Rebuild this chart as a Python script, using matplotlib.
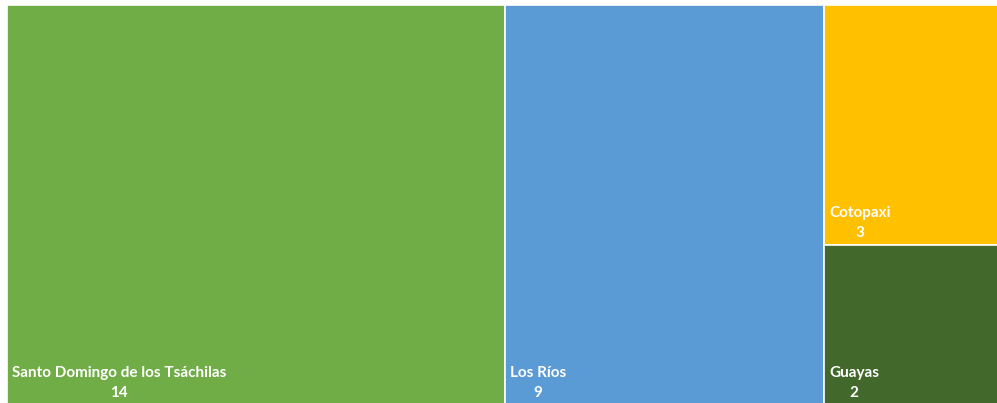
import matplotlib.pyplot as plt
from matplotlib.patches import Rectangle

# data
provinces = ["Santo Domingo de los Tsáchilas", "Los Ríos", "Cotopaxi", "Guayas"]
counts = [14, 9, 3, 2]
colors = ["#70AD47", "#5B9BD5", "#FFC000", "#43682B"]

plt.rcParams['font.family'] = ['Lato', 'DejaVu Sans']

fig = plt.figure(figsize=(9.97, 4.03), dpi=100)
ax = fig.add_axes([0, 0, 1, 1])
ax.set_xlim(0, 997)
ax.set_ylim(403, 0)
ax.axis("off")

# treemap area (pixels): first two tiles are full-height columns,
# the last two share the remaining column stacked vertically
x0, y0, W, H = 7, 5, 995, 400
total = sum(counts)

tiles = []
x = x0
for v in counts[:2]:
    w = W * v / total
    tiles.append((x, y0, w, H))
    x += w
rest = sum(counts[2:])
w = W * rest / total
y = y0
for v in counts[2:]:
    h = H * v / rest
    tiles.append((x, y, w, h))
    y += h

for (tx, ty, tw, th), name, val, c in zip(tiles, provinces, counts, colors):
    ax.add_patch(Rectangle((tx, ty), tw, th, facecolor=c, edgecolor="white", linewidth=1.2))
    bottom = ty + th
    t = ax.text(tx + 5, bottom - 32, name, color="white", fontsize=11,
                fontweight="bold", ha="left", va="center")
    fig.canvas.draw()
    bb = t.get_window_extent().transformed(ax.transData.inverted())
    cx = (bb.x0 + bb.x1) / 2
    ax.text(cx, bottom - 12, str(val), color="white", fontsize=11,
            fontweight="bold", ha="center", va="center")

fig.savefig("out.png", dpi=100)
